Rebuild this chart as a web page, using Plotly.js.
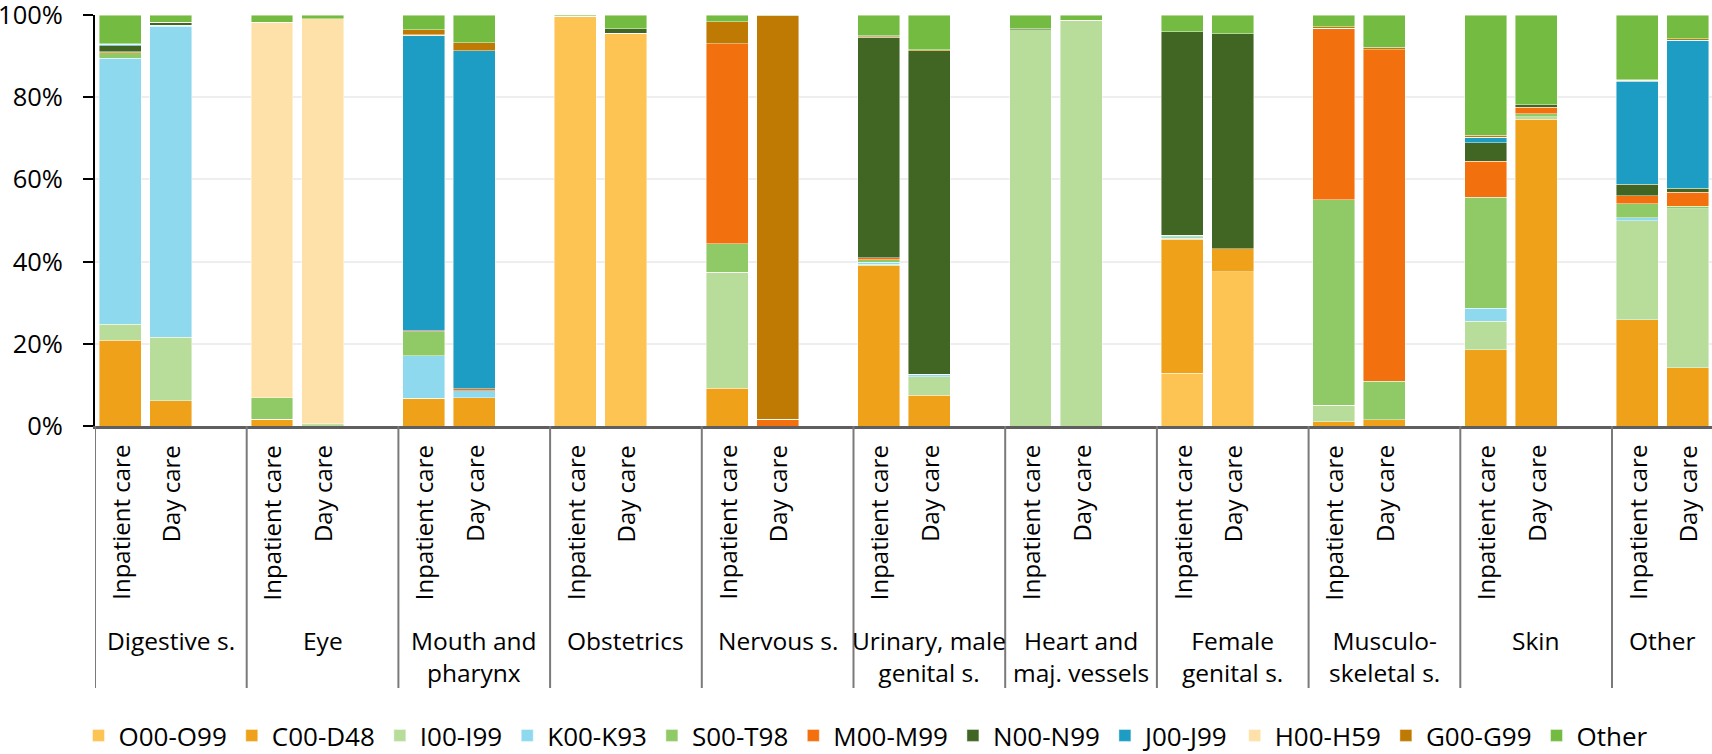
<!DOCTYPE html>
<html>
<head>
<meta charset="utf-8">
<script src="https://cdn.plot.ly/plotly-3.0.1.min.js"></script>
<style>
  html, body { margin: 0; padding: 0; background: #fff; overflow: hidden; }
  #chart { width: 1712px; height: 754px; }
</style>
</head>
<body>
<div id="chart"></div>
<script>
// Diagnosis groups (outer axis level) and care types (inner level)
const groups = ['Digestive s.', 'Eye', 'Mouth and<br>pharynx', 'Obstetrics', 'Nervous s.',
  'Urinary, male<br>genital s.', 'Heart and<br>maj. vessels', 'Female<br>genital s.',
  'Musculo-<br>skeletal s.', 'Skin', 'Other'];
const careTypes = ['Inpatient care', 'Day care'];

// Share of patients (%) by ICD chapter; per group: [inpatient, day care]
const O00_O99 = [0,0, 0,0, 0,0, 99.7,95.6, 0,0, 0,0, 0,0, 12.8,37.5, 0,0, 0,0, 0,0];
const C00_D48 = [20.9,6.2, 1.6,0, 6.6,6.9, 0,0, 9.2,0, 39.0,7.5, 0,0, 32.7,5.6, 1.0,1.5, 18.6,74.6, 25.8,14.2];
const I00_I99 = [3.9,15.4, 0,0.3, 0.1,0, 0,0, 28.2,0, 0.3,4.5, 96.4,98.7, 0.2,0, 4.0,0, 6.9,0.6, 24.1,38.6];
const K00_K93 = [64.7,75.7, 0,0, 10.4,1.7, 0,0, 0,0, 0.6,0.5, 0,0, 0.3,0, 0,0, 3.2,0, 0.8,0];
const S00_T98 = [1.3,0.2, 5.3,0.2, 5.8,0, 0,0, 7.0,0, 0.6,0.1, 0,0, 0.4,0, 50.0,9.4, 27.0,0.8, 3.4,0.7];
const M00_M99 = [0.3,0, 0,0, 0.3,0.5, 0,0, 48.6,1.6, 0.4,0, 0,0, 0,0, 41.8,80.7, 8.7,1.6, 1.9,3.4];
const N00_N99 = [1.4,0.7, 0,0, 0,0, 0,1.1, 0,0, 53.7,78.7, 0.2,0, 49.5,52.3, 0,0, 4.5,0.6, 2.8,1.0];
const J00_J99 = [0.4,0, 0,0, 71.8,82.2, 0,0, 0,0, 0.1,0, 0,0, 0,0, 0,0, 1.3,0, 25.1,36.0];
const H00_H59 = [0,0, 91.3,98.6, 0.2,0, 0,0, 0,0, 0,0, 0,0, 0,0, 0,0, 0,0, 0.2,0];
const G00_G99 = [0.1,0, 0,0, 1.2,2.0, 0,0, 5.4,98.2, 0.2,0.2, 0,0, 0,0, 0.4,0.6, 0.6,0, 0.2,0.3];
const OTHER   = [7.0,1.8, 1.8,0.9, 3.6,6.7, 0.3,3.3, 1.6,0.2, 5.1,8.5, 3.4,1.3, 4.1,4.6, 2.8,7.8, 29.2,21.8, 15.7,5.8];

const seriesNames  = ['O00-O99', 'C00-D48', 'I00-I99', 'K00-K93', 'S00-T98', 'M00-M99',
  'N00-N99', 'J00-J99', 'H00-H59', 'G00-G99', 'Other'];
const seriesValues = [O00_O99, C00_D48, I00_I99, K00_K93, S00_T98, M00_M99,
  N00_N99, J00_J99, H00_H59, G00_G99, OTHER];
const seriesColors = ['#fdc453', '#efa11a', '#b8dd9a', '#8ed9ee', '#90ca66', '#f3700f',
  '#416624', '#1e9dc4', '#fee1a8', '#bf7a04', '#74bc41'];

const yTickVals = [0, 20, 40, 60, 80, 100];
const yTickText = ['0%', '20%', '40%', '60%', '80%', '100%'];

// ---- layout geometry ----
const W = 1712, H = 754;
const M = { l: 95, r: 0, t: 15, b: 328 };
const plotW = W - M.l - M.r, plotH = H - M.t - M.b;
const SLOTS = 3;                 // two bars + one empty slot per group
const slotPx = 151.7 / SLOTS;
const xMin = -0.5;
const xMax = xMin + plotW / slotPx;
const yPaper = px => (H - M.b - px) / plotH;   // page pixel row -> paper y

const xPos = [], careLabels = [];
groups.forEach((g, gi) => careTypes.forEach((c, ci) => {
  xPos.push(gi * SLOTS + ci);
  careLabels.push(c);
}));

const FONT = 'Open Sans, Noto Sans, sans-serif';

const traces = seriesNames.map((name, i) => ({
  type: 'bar',
  name: name,
  x: xPos,
  y: seriesValues[i],
  width: 0.83,
  marker: { color: seriesColors[i], line: { color: 'rgba(255,255,255,0.55)', width: 0.8 } },
  hoverinfo: 'name+y'
}));

const annotations = [];
// rotated care-type labels
xPos.forEach((x, i) => {
  annotations.push({
    xref: 'x', yref: 'paper', x: x, y: yPaper(443),
    xanchor: 'center', yanchor: 'top', textangle: -90,
    text: careLabels[i], showarrow: false,
    font: { family: FONT, size: 24, color: '#000' }
  });
});
// group labels, centred on the visible part of each group
groups.forEach((g, gi) => {
  const x0 = gi * SLOTS - 0.5;
  const x1 = Math.min(x0 + SLOTS, xMax);
  annotations.push({
    xref: 'x', yref: 'paper', x: (x0 + x1) / 2, y: yPaper(622),
    xanchor: 'center', yanchor: 'top', align: 'center',
    text: g, showarrow: false,
    font: { family: FONT, size: 24.5, color: '#000' }
  });
});

// vertical group dividers below the axis
const shapes = [];
for (let gi = 0; gi <= groups.length; gi++) {
  const x = gi * SLOTS - 0.5;
  if (x > xMax) break;
  shapes.push({
    type: 'line', xref: 'x', yref: 'paper',
    x0: x, x1: x, y0: 0, y1: yPaper(688),
    line: { color: '#7a7a7a', width: 2 }
  });
}

const layout = {
  width: W, height: H,
  margin: { l: M.l, r: M.r, t: M.t, b: M.b, autoexpand: false },
  paper_bgcolor: '#fff', plot_bgcolor: '#fff',
  barmode: 'stack',
  font: { family: FONT, color: '#000' },
  xaxis: {
    range: [xMin, xMax], showgrid: false, zeroline: false,
    showticklabels: false, ticks: '', showline: true,
    linecolor: '#5f5f5f', linewidth: 3, fixedrange: true
  },
  yaxis: {
    range: [0, 100], tickvals: yTickVals, ticktext: yTickText,
    showline: true, linecolor: '#000', linewidth: 2,
    ticks: 'outside', ticklen: 10, tickwidth: 2, tickcolor: '#000',
    ticklabelstandoff: 15, ticklabeloverflow: 'allow',
    gridcolor: '#eeeeee', gridwidth: 2, zeroline: false,
    tickfont: { family: FONT, size: 25.5, color: '#000' }, fixedrange: true
  },
  showlegend: true,
  legend: {
    orientation: 'h', traceorder: 'normal',
    x: (78.5 - M.l) / plotW, xanchor: 'left',
    y: yPaper(735.5), yanchor: 'middle',
    font: { family: FONT, size: 26, color: '#000' },
    itemwidth: 30, itemclick: false, itemdoubleclick: false
  },
  annotations: annotations,
  shapes: shapes
};

Plotly.newPlot('chart', traces, layout, { displayModeBar: false, staticPlot: true });
</script>
</body>
</html>
